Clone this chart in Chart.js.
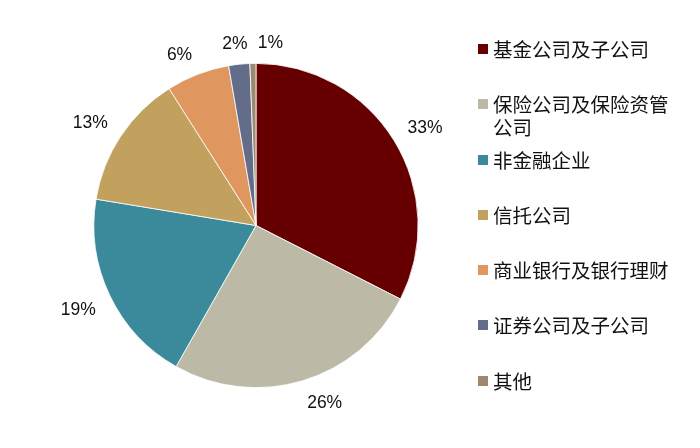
<!DOCTYPE html>
<html>
<head>
<meta charset="utf-8">
<script src="https://cdn.jsdelivr.net/npm/chart.js@4"></script>
<style>
  html, body { margin: 0; padding: 0; background: #ffffff; }
  #wrap { position: relative; width: 700px; height: 448px; overflow: hidden; }
  #chart { position: absolute; left: 0; top: 0; }
  #legend { position: absolute; left: 478px; top: 37px; font-family: "Noto Sans CJK SC", sans-serif; font-size: 19.5px; color: #111; }
  .item { position: relative; height: 55.3px; }
  .sw { position: absolute; left: 0; top: 7px; width: 10px; height: 10px; }
  .tx { position: absolute; left: 15px; top: 0; width: 186px; line-height: 23px; word-break: break-all; }
</style>
</head>
<body>
<div id="wrap">
  <canvas id="chart" width="700" height="448"></canvas>
  <div id="legend"></div>
</div>
<script>
const categories = ['基金公司及子公司', '保险公司及保险资管公司', '非金融企业', '信托公司', '商业银行及银行理财', '证券公司及子公司', '其他'];
const shares = [32.5, 25.7, 19.4, 13.4, 6.3, 2.1, 0.6];
const sliceColors = ['#660000', '#BCBAA7', '#3B8A9B', '#C2A15F', '#E0975F', '#636C89', '#9E8870'];
const pctLabels = shares.map(v => Math.round(v) + '%');

// HTML legend built from the arrays
const legendEl = document.getElementById('legend');
categories.forEach((c, i) => {
  const it = document.createElement('div');
  it.className = 'item';
  const sw = document.createElement('div');
  sw.className = 'sw';
  sw.style.background = sliceColors[i];
  const tx = document.createElement('div');
  tx.className = 'tx';
  tx.textContent = c;
  it.appendChild(sw);
  it.appendChild(tx);
  legendEl.appendChild(it);
});

const outsideLabels = {
  id: 'outsideLabels',
  afterDraw(chart) {
    const ctx = chart.ctx;
    const meta = chart.getDatasetMeta(0);
    const fontSize = 17.5;
    const capH = 0.716 * fontSize;
    const gap = 15.5;
    const sep = 10;
    ctx.save();
    ctx.font = fontSize + 'px "Liberation Sans", Arial, sans-serif';
    ctx.textBaseline = 'alphabetic';
    ctx.textAlign = 'left';
    const boxes = [];
    meta.data.forEach((arc, i) => {
      const p = arc.getProps(['x', 'y', 'startAngle', 'endAngle', 'outerRadius'], true);
      const mid = (p.startAngle + p.endAngle) / 2;
      const ux = Math.cos(mid), uy = Math.sin(mid);
      const d = p.outerRadius + gap;
      const cx = p.x + ux * d, cy = p.y + uy * d;
      const txt = pctLabels[i];
      const w = ctx.measureText(txt).width;
      // nearest corner of the box sits on the ray
      let left = ux >= 0 ? cx : cx - w;
      const top = uy >= 0 ? cy : cy - capH;
      const box = { left, top, w, h: capH, txt };
      if (boxes.length) {
        const b = boxes[boxes.length - 1];
        const overlapY = top < b.top + b.h && top + capH > b.top;
        const overlapX = left < b.left + b.w + sep && left + w > b.left - sep;
        if (overlapX && overlapY) {
          // split the pair around this label's anchor
          b.left = cx - sep / 2 - b.w;
          box.left = cx + sep / 2;
        }
      }
      boxes.push(box);
    });
    ctx.fillStyle = '#111111';
    boxes.forEach(b => ctx.fillText(b.txt, b.left, b.top + b.h));
    ctx.restore();
  }
};

new Chart(document.getElementById('chart'), {
  type: 'pie',
  data: {
    labels: categories,
    datasets: [{
      data: shares,
      backgroundColor: sliceColors,
      borderColor: '#ffffff',
      borderWidth: 0.8
    }]
  },
  options: {
    responsive: false,
    animation: false,
    layout: { padding: { left: 93.5, right: 281.5, top: 63, bottom: 60 } },
    plugins: {
      legend: { display: false },
      tooltip: { enabled: false }
    }
  },
  plugins: [outsideLabels]
});
</script>
</body>
</html>
